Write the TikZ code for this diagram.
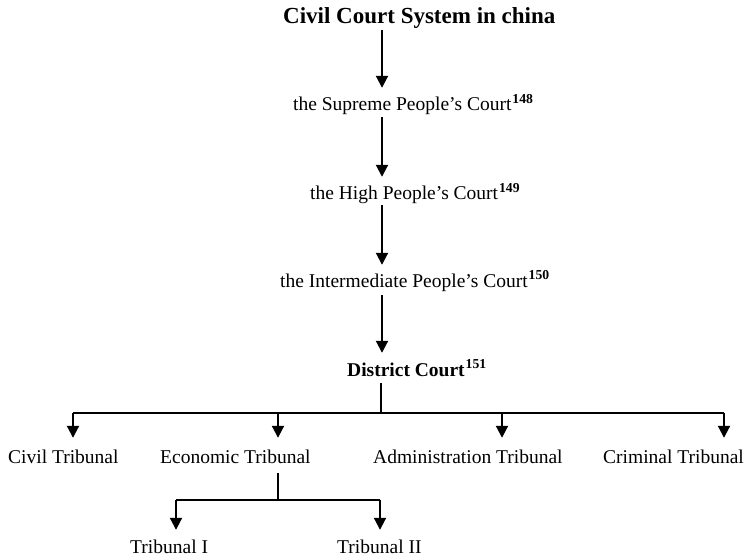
\documentclass[tikz,border=0pt]{standalone}
\usepackage{fontspec}
\setmainfont{Liberation Serif}
\usetikzlibrary{arrows.meta}
\newcommand\fnref[1]{\kern1pt\textsuperscript{\bfseries #1}}
\begin{document}
\begin{tikzpicture}[x=1pt,y=-1pt,
  lbl/.style={inner sep=0pt, anchor=base west, font=\fontsize{19.5}{22}\selectfont, text height=14pt, text depth=4pt},
  boldlbl/.style={lbl, font=\fontsize{19.5}{22}\selectfont\bfseries},
  arr/.style={line width=2pt, -{Triangle[width=12pt,length=12pt]}},
  ln/.style={line width=1.4pt}]
\useasboundingbox (0,0) rectangle (752,556);
% chain nodes
\node[lbl, font=\fontsize{23}{26}\selectfont\bfseries, text height=16pt, text depth=5pt] (title) at (283,24) {Civil Court System in china};
\node[lbl] (sup) at (293,111) {the Supreme People's Court\fnref{148}};
\node[lbl] (high) at (310,200) {the High People's Court\fnref{149}};
\node[lbl] (inter) at (280,287) {the Intermediate People's Court\fnref{150}};
\node[boldlbl] (dist) at (347,376) {District Court\fnref{151}};
% tribunals
\node[lbl] (civil) at (8,463) {Civil Tribunal};
\node[lbl] (econ) at (160,463) {Economic Tribunal};
\node[lbl] (admin) at (373,463) {Administration Tribunal};
\node[lbl] (crim) at (603,463) {Criminal Tribunal};
\node[lbl, text depth=0pt] (t1) at (130,553) {Tribunal I};
\node[lbl, text depth=0pt] (t2) at (337,553) {Tribunal II};
% coordinates
\coordinate (ax) at (382,0);
\coordinate (bar) at (381,413);
\coordinate (bl) at (73,413);
\coordinate (be) at (278,413);
\coordinate (ba) at (502,413);
\coordinate (br) at (724,413);
\coordinate (eb) at (278,500);
\coordinate (tl) at (176,500);
\coordinate (tr) at (380,500);
% chain arrows
\draw[arr, shorten <=1pt, shorten >=9pt] (title.south -| ax) -- (sup.north -| ax);
\draw[arr, shorten <=2pt, shorten >=9pt] (sup.south -| ax) -- (high.north -| ax);
\draw[arr, shorten <=1pt, shorten >=8pt] (high.south -| ax) -- (inter.north -| ax);
\draw[arr, shorten <=4pt, shorten >=9pt] (inter.south -| ax) -- (dist.north -| ax);
% district branch
\draw[ln, shorten <=3pt] (dist.south -| bar) -- (bar);
\draw[ln] (bl) -- (br);
\draw[arr, shorten >=11pt] (bl) -- (civil.north -| bl);
\draw[arr, shorten >=11pt] (be) -- (econ.north -| be);
\draw[arr, shorten >=11pt] (ba) -- (admin.north -| ba);
\draw[arr, shorten >=11pt] (br) -- (crim.north -| br);
% economic branch
\draw[ln, shorten <=6pt] (econ.south -| eb) -- (eb);
\draw[ln] (tl) -- (tr);
\draw[arr, shorten >=9pt] (tl) -- (t1.north -| tl);
\draw[arr, shorten >=9pt] (tr) -- (t2.north -| tr);
\end{tikzpicture}
\end{document}
